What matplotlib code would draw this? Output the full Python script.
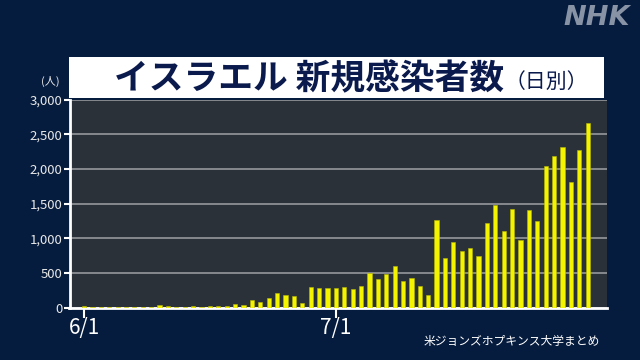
import numpy as np
import pandas as pd
import matplotlib
matplotlib.use('Agg')
import matplotlib.pyplot as plt
import matplotlib.ticker as mtick

plt.rcParams['font.family'] = ['Noto Sans CJK JP', 'DejaVu Sans']

# daily new cases in Israel, 2020-06-01 .. 2020-07-31
dates = pd.date_range('2020-06-01', '2020-07-31')
cases = [29, 5, 8, 4, 14, 5, 3, 6, 4, 43,
         24, 5, 8, 19, 6, 19, 19, 19, 60, 32,
         110, 80, 142, 205, 190, 173, 62, 303, 279, 279,
         279, 303, 269, 312, 495, 418, 486, 601, 385, 428,
         312, 188, 1265, 716, 947, 822, 856, 750, 1216, 1476,
         1108, 1425, 981, 1413, 1243, 2045, 2183, 2310, 1815, 2267,
         2656]
tick_dates = pd.to_datetime(['2020-06-01', '2020-07-01'])
tick_labels = ['6/1', '7/1']
yticks = [0, 500, 1000, 1500, 2000, 2500, 3000]

bg = '#061c3e'
fig = plt.figure(figsize=(6.4, 3.6), dpi=100, facecolor=bg)

W, H = 640, 360
ax = fig.add_axes([69.5 / W, 1 - 307.7 / H, (607 - 69.5) / W, (307.7 - 99.5) / H])
ax.set_facecolor('#2a3139')

ax.bar(dates, cases, width=0.5, color='#f4f400', edgecolor='#b8b800',
       linewidth=0.4, zorder=3)

ax.set_ylim(0, 3000)
ax.set_xlim(dates[0] - pd.Timedelta(days=1.73), dates[-1] + pd.Timedelta(days=2.3))
ax.set_yticks(yticks)
ax.yaxis.set_major_formatter(mtick.StrMethodFormatter('{x:,.0f}'))
ax.grid(axis='y', color='#8d9196', linewidth=1.3, zorder=1)
ax.set_xticks(tick_dates)
ax.set_xticklabels(tick_labels)

ax.tick_params(axis='y', colors='white', labelcolor='#e8e8e8', labelsize=9.5,
               length=4, width=1.5, pad=1)
ax.tick_params(axis='x', colors='white', labelcolor='white', labelsize=15,
               length=7, width=1.5, pad=0)
for s in ['top', 'right']:
    ax.spines[s].set_visible(False)
for s in ['left', 'bottom']:
    ax.spines[s].set_color('white')
    ax.spines[s].set_linewidth(2)

# title box
tax = fig.add_axes([69 / W, 1 - 98 / H, 535 / W, 41 / H])
tax.set_facecolor('white')
tax.set_xticks([])
tax.set_yticks([])
for s in tax.spines.values():
    s.set_visible(False)
main = tax.text(0.084, 0.46, 'イスラエル 新規感染者数', transform=tax.transAxes,
                ha='left', va='center', fontsize=25, fontweight='bold',
                color='#0b1a4c')
fig.canvas.draw()
bb = main.get_window_extent().transformed(tax.transAxes.inverted())
tax.text(bb.x1, 0.40, '（日別）', transform=tax.transAxes,
         ha='left', va='center', fontsize=15, color='#0b1a4c')

fig.text(50 / W, 1 - 81 / H, '(人)', ha='center', va='center',
         fontsize=8, color='#e8e8e8')
fig.text(630 / W, 1 - 18 / H, 'NHK', ha='right', va='center', fontsize=19.5,
         fontweight='bold', style='italic', color='#8893a6',
         family=['DejaVu Sans'])
fig.text(600 / W, 1 - 342 / H, '米ジョンズホプキンス大学まとめ', ha='right',
         va='center', fontsize=8.5, color='white')

plt.savefig('out.png', dpi=100, facecolor=bg)
